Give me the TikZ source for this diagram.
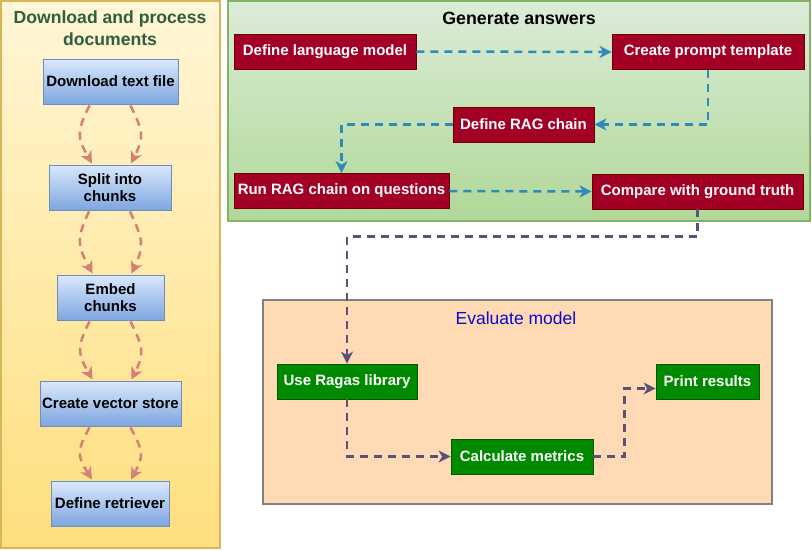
\documentclass[tikz,border=0pt]{standalone}
\usepackage{fontspec}
\setmainfont{Liberation Sans}
\usetikzlibrary{arrows.meta,calc}
\definecolor{yeltop}{RGB}{255,246,214}
\definecolor{yelbot}{RGB}{255,222,125}
\definecolor{yelbd}{RGB}{214,182,86}
\definecolor{grntop}{RGB}{220,236,216}
\definecolor{grnbot}{RGB}{176,216,152}
\definecolor{grnbd}{RGB}{130,179,102}
\definecolor{orgfill}{RGB}{255,218,180}
\definecolor{orgbd}{RGB}{128,128,128}
\definecolor{bluetop}{RGB}{218,232,252}
\definecolor{bluebot}{RGB}{126,166,224}
\definecolor{bluebd}{RGB}{108,142,191}
\definecolor{redfill}{RGB}{162,0,37}
\definecolor{redbd}{RGB}{111,0,0}
\definecolor{gfill}{RGB}{0,138,0}
\definecolor{gbd}{RGB}{0,87,0}
\definecolor{titlegreen}{RGB}{45,95,62}
\definecolor{evalblue}{RGB}{10,10,205}
\definecolor{curvecol}{RGB}{212,128,118}
\definecolor{bluearr}{RGB}{45,138,185}
\definecolor{grayarr}{RGB}{92,82,120}
\tikzset{
  nodefont/.style={font=\bfseries\fontsize{15}{17.5}\selectfont},
  bluebox/.style={nodefont, draw=bluebd, line width=1pt, top color=bluetop, bottom color=bluebot, align=center, inner sep=1pt, minimum height=45pt},
  redbox/.style={nodefont, draw=redbd, line width=0.8pt, fill=redfill, text=white, inner sep=1pt, minimum height=35pt},
  greenbox/.style={nodefont, draw=gbd, line width=0.8pt, fill=gfill, text=white, inner sep=1pt, minimum height=35pt},
  arrbase/.style={line width=2.5pt, dash pattern=on 8pt off 6pt, -{Stealth[length=12pt,width=12pt,inset=3.5pt]}},
  curvarrow/.style={arrbase, draw=curvecol},
  bluearrow/.style={arrbase, draw=bluearr},
  grayarrow/.style={arrbase, draw=grayarr},
}
\newcommand{\curvpair}[3]{%
  \draw[curvarrow] ($(#1.south)+(-21,1)$) .. controls ($(#1.south)+(-34,#3)$) and ($(#2.north)+(-33,-#3)$) .. ($(#2.north)+(-18,-1)$);
  \draw[curvarrow] ($(#1.south)+(20,1)$) .. controls ($(#1.south)+(33,#3)$) and ($(#2.north)+(34,-#3)$) .. ($(#2.north)+(21,-1)$);
}
\begin{document}
\begin{tikzpicture}[x=1pt,y=-1pt]
\useasboundingbox (0,0) rectangle (812,550);
% panels
\path[draw=yelbd, line width=1.5pt, top color=yeltop, bottom color=yelbot] (1,1) rectangle (220,548);
\path[draw=grnbd, line width=1.5pt, top color=grntop, bottom color=grnbot] (228,1) rectangle (810,221);
\path[draw=orgbd, line width=1.5pt, fill=orgfill] (263,300) rectangle (772,504);
% titles
\node[font=\bfseries\fontsize{17.6}{22}\selectfont, text=titlegreen, align=center] (t1) at (110,28) {Download and process\\documents};
\node[font=\bfseries\fontsize{17.8}{20}\selectfont] (t2) at (519,18) {Generate answers};
\node[font=\fontsize{17.5}{20}\selectfont, text=evalblue] (t3) at (516,318) {Evaluate model};
% left nodes
\node[bluebox, minimum width=135pt] (dl) at (110.5,81.5) {Download text file};
\node[bluebox, minimum width=122pt] (split) at (110,187.5) {Split into\\chunks};
\node[bluebox, minimum width=107pt] (embed) at (110.5,297.5) {Embed\\chunks};
\node[bluebox, minimum width=141pt] (vec) at (110.5,403.5) {Create vector store};
\node[bluebox, minimum width=118pt] (retr) at (110,503.5) {Define retriever};
\curvpair{dl}{split}{27}
\curvpair{split}{embed}{29}
\curvpair{embed}{vec}{27}
\curvpair{vec}{retr}{25}
% red nodes
\node[redbox, minimum width=182pt] (dlm) at (325,51.5) {Define language model};
\node[redbox, minimum width=192pt] (cpt) at (708,52) {Create prompt template};
\node[redbox, minimum width=141pt] (rag) at (523.5,124.5) {Define RAG chain};
\node[redbox, minimum width=215pt] (run) at (341.5,191) {Run RAG chain on questions};
\node[redbox, minimum width=211pt] (cmp) at (697.5,191.5) {Compare with ground truth};
% green nodes
\node[greenbox, minimum width=140pt] (ragas) at (347,381.5) {Use Ragas library};
\node[greenbox, minimum width=142pt] (calc) at (522,456.5) {Calculate metrics};
\node[greenbox, minimum width=103pt] (prn) at (707.5,381.5) {Print results};
% connectors
\draw[bluearrow] (dlm.east) -- (cpt.west);
\draw[bluearrow] (cpt.south) |- (rag.east);
\draw[bluearrow] (rag.west) -| (run.north);
\draw[bluearrow] (run.east) -- (cmp.west);
\draw[grayarrow] (cmp.south) -- ++(0,27) -| (ragas.north);
\draw[grayarrow] (ragas.south) |- (calc.west);
\draw[grayarrow] (calc.east) -- ++(31,0) |- ($(prn.west)+(0,7)$);
\end{tikzpicture}
\end{document}
